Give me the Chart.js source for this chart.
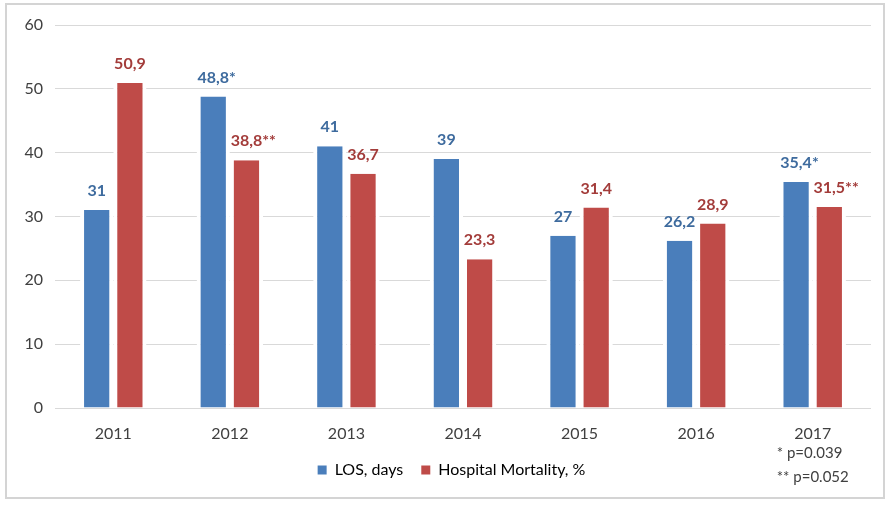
<!DOCTYPE html>
<html>
<head>
<meta charset="utf-8">
<script src="https://cdn.jsdelivr.net/npm/chart.js@4"></script>
<style>
  body { margin: 0; background: #fff; }
  #frame { position: absolute; left: 5px; top: 3px; width: 876px; height: 492px; border: 2px solid #d4d4d4; }
  #wrap { position: absolute; left: 0; top: 0; width: 894px; height: 506px; }
</style>
</head>
<body>
<div id="frame"></div>
<div id="wrap"><canvas id="chart" width="894" height="506"></canvas></div>
<script>
const years = ["2011", "2012", "2013", "2014", "2015", "2016", "2017"];
const losDays = [31, 48.8, 41, 39, 27, 26.2, 35.4];
const mortality = [50.9, 38.8, 36.7, 23.3, 31.4, 28.9, 31.5];
const losLabels = ["31", "48,8*", "41", "39", "27", "26,2", "35,4*"];
const mortLabels = ["50,9", "38,8**", "36,7", "23,3", "31,4", "28,9", "31,5**"];
const footnotes = ["* p=0.039", "** p=0.052"];

const FONT = "Lato, 'Open Sans', sans-serif";

// value labels above each bar; the number is centred, asterisks hang to the right
const valueLabels = {
  id: "valueLabels",
  afterDatasetsDraw(chart) {
    const ctx = chart.ctx;
    const texts = [losLabels, mortLabels];
    const colors = ["#3e6b9e", "#a33c3a"];
    ctx.save();
    ctx.font = "bold 16px " + FONT;
    ctx.textBaseline = "bottom";
    chart.data.datasets.forEach((ds, i) => {
      chart.getDatasetMeta(i).data.forEach((bar, j) => {
        const m = texts[i][j].match(/^([^*]*)(\**)$/);
        const num = m[1];
        const stars = m[2];
        const w = ctx.measureText(num).width;
        ctx.fillStyle = colors[i];
        ctx.textAlign = "left";
        ctx.fillText(num, bar.x - w / 2, bar.y - 11);
        if (stars) ctx.fillText(stars, bar.x + w / 2, bar.y - 11);
      });
    });
    ctx.restore();
  },
};

// p-value footnote under the last category
const footnote = {
  id: "footnote",
  afterDraw(chart) {
    const ctx = chart.ctx;
    const x = chart.scales.x.getPixelForValue(years.length - 1) - 36;
    ctx.save();
    ctx.font = "15px " + FONT;
    ctx.fillStyle = "#404040";
    ctx.textBaseline = "middle";
    ctx.fillText(footnotes[0], x, 453);
    ctx.fillText(footnotes[1], x, 477);
    ctx.restore();
  },
};

// legend sits a bit right of centre in the original
const legendShift = {
  id: "legendShift",
  afterLayout(chart) {
    chart.legend.left += 16;
    chart.legend.right += 16;
  },
};

new Chart(document.getElementById("chart"), {
  type: "bar",
  data: {
    labels: years,
    datasets: [
      {
        label: "LOS, days",
        data: losDays,
        backgroundColor: "#4a7ebb",
        borderColor: "#ffffff",
        borderWidth: { left: 4, right: 4, top: 0, bottom: 0 },
        categoryPercentage: 0.57,
        barPercentage: 1.0,
      },
      {
        label: "Hospital Mortality, %",
        data: mortality,
        backgroundColor: "#bf4b48",
        borderColor: "#ffffff",
        borderWidth: { left: 4, right: 4, top: 0, bottom: 0 },
        categoryPercentage: 0.57,
        barPercentage: 1.0,
      },
    ],
  },
  options: {
    responsive: false,
    animation: false,
    layout: { padding: { left: 0, right: 23, top: 25, bottom: 18 } },
    plugins: {
      tooltip: { enabled: false },
      legend: {
        position: "bottom",
        labels: {
          boxWidth: 9,
          boxHeight: 9,
          color: "#404040",
          font: { family: FONT, size: 16 },
          padding: 18,
          generateLabels(chart) {
            return chart.data.datasets.map((ds, i) => ({
              text: ds.label,
              fillStyle: ds.backgroundColor,
              strokeStyle: ds.backgroundColor,
              lineWidth: 0,
              datasetIndex: i,
            }));
          },
        },
      },
    },
    scales: {
      x: {
        grid: { display: false },
        border: { display: false },
        ticks: { color: "#404040", font: { family: FONT, size: 16 }, padding: 8 },
        afterFit(scale) { scale.height = 36; },
      },
      y: {
        min: 0,
        max: 60,
        ticks: { stepSize: 10, color: "#404040", font: { family: FONT, size: 16 }, padding: 12 },
        grid: { color: "#d9d9d9", drawTicks: false },
        border: { display: false },
        afterFit(scale) { scale.width = 55; },
      },
    },
  },
  plugins: [valueLabels, footnote, legendShift],
});
</script>
</body>
</html>
